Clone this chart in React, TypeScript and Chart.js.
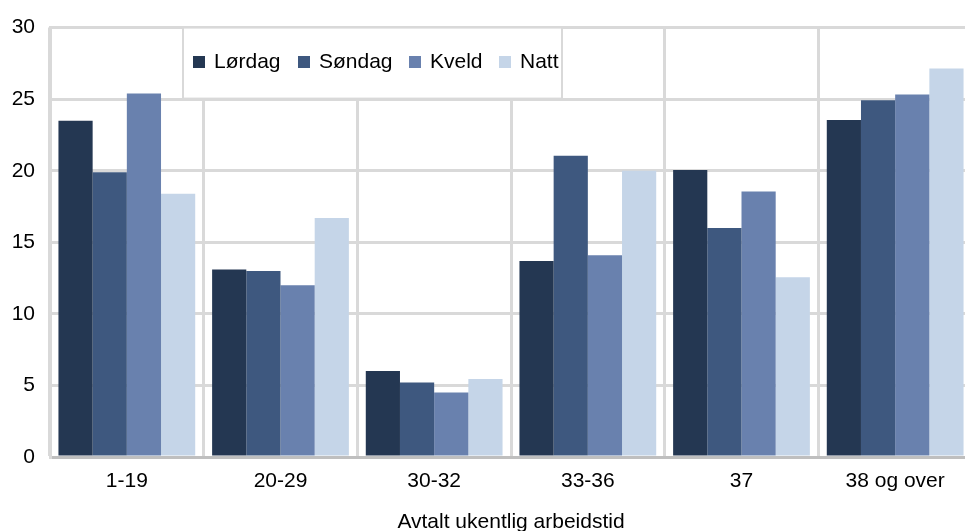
import React, { useEffect, useRef } from "react";
import { Chart, registerables } from "chart.js";

Chart.register(...registerables);

const categories = ["1-19", "20-29", "30-32", "33-36", "37", "38 og over"];
const seriesNames = ["Lørdag", "Søndag", "Kveld", "Natt"];
const lordag = [23.5, 13.1, 6.0, 13.7, 20.05, 23.55];
const sondag = [19.9, 13.0, 5.2, 21.05, 16.0, 24.93];
const kveld = [25.4, 12.0, 4.5, 14.1, 18.55, 25.33];
const natt = [18.4, 16.7, 5.45, 20.0, 12.55, 27.15];
const colors = ["#243752", "#3E587F", "#6981AE", "#C5D5E8"];
const yTicks = [0, 5, 10, 15, 20, 25, 30];
const xTitle = "Avtalt ukentlig arbeidstid";

const FONT = "'Liberation Sans', Arial, sans-serif";
const FS = 21;

const legendPlugin = {
  id: "boxLegend",
  afterDatasetsDraw(chart: any) {
    const ctx = chart.ctx;
    const x0 = 183;
    const y0 = chart.chartArea.top;
    const w = 379;
    const h = 71;
    ctx.save();
    ctx.fillStyle = "#FFFFFF";
    ctx.fillRect(x0, y0, w, h);
    ctx.strokeStyle = "#D9D9D9";
    ctx.lineWidth = 2;
    ctx.strokeRect(x0, y0, w, h);
    ctx.font = `${FS}px ${FONT}`;
    ctx.textBaseline = "middle";
    ctx.textAlign = "left";
    const squareX = [193, 298, 409, 499];
    chart.data.datasets.forEach((ds: any, i: number) => {
      ctx.fillStyle = ds.backgroundColor;
      ctx.fillRect(squareX[i], 56, 12, 12);
      ctx.fillStyle = "#000000";
      ctx.fillText(ds.label, squareX[i] + 21, 62);
    });
    ctx.restore();
  },
};

export default function App() {
  const ref = useRef<HTMLCanvasElement | null>(null);
  useEffect(() => {
    if (!ref.current) return;
    const series = [lordag, sondag, kveld, natt];
    const chart = new Chart(ref.current, {
      type: "bar",
      data: {
        labels: categories,
        datasets: series.map((d, i) => ({
          label: seriesNames[i],
          data: d,
          backgroundColor: colors[i],
          borderWidth: 0,
          categoryPercentage: 0.89,
          barPercentage: 1,
        })),
      },
      options: {
        responsive: false,
        animation: false,
        layout: { padding: { top: 27, right: 3, left: 0, bottom: 0 } },
        plugins: {
          legend: { display: false },
          tooltip: { enabled: false },
        },
        scales: {
          x: {
            grid: {
              color: "#D9D9D9",
              lineWidth: 3,
              drawTicks: false,
              offset: true,
            },
            border: { color: "#BFBFBF", width: 3 },
            ticks: {
              color: "#000000",
              font: { family: FONT, size: FS },
              padding: 12,
              maxRotation: 0,
            },
            title: {
              display: true,
              text: xTitle,
              color: "#000000",
              font: { family: FONT, size: FS, lineHeight: 1 },
              padding: { top: 0, bottom: -2 },
            },
            afterFit(scale: any) {
              scale.height = 74;
            },
          },
          y: {
            min: 0,
            max: 30,
            afterBuildTicks(scale: any) {
              scale.ticks = yTicks.map((v) => ({ value: v }));
            },
            grid: {
              color: "#D9D9D9",
              lineWidth: 3,
              drawTicks: false,
            },
            border: { color: "#D9D9D9", width: 3 },
            ticks: {
              color: "#000000",
              font: { family: FONT, size: FS },
              padding: 15,
            },
            afterFit(scale: any) {
              scale.width = 50;
            },
          },
        },
      },
      plugins: [legendPlugin],
    });
    return () => chart.destroy();
  }, []);
  return (
    <div style={{ position: "absolute", left: 0, top: 0, width: 965, height: 531, background: "#fff", overflow: "hidden" }}>
      <canvas ref={ref} width={975} height={531} style={{ display: "block" }} />
    </div>
  );
}
